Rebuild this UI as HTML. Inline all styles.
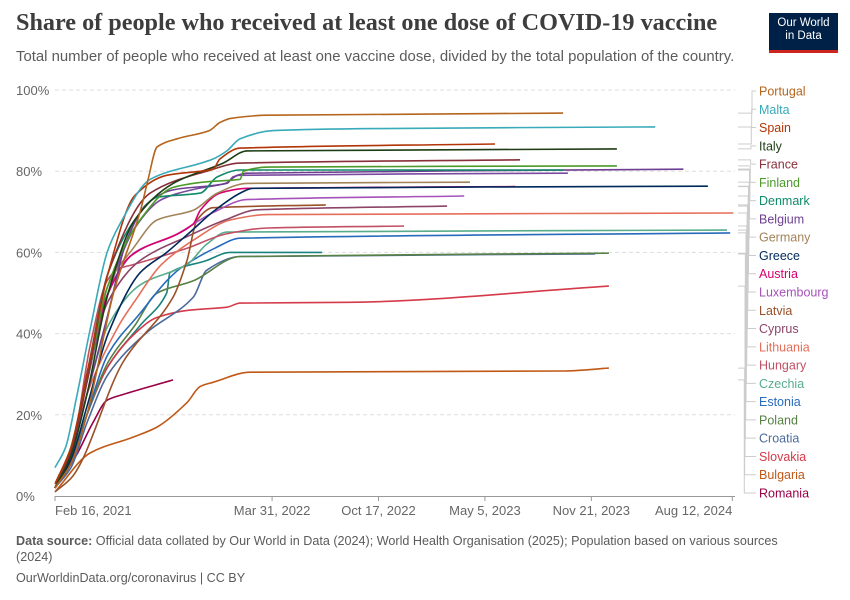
<!DOCTYPE html>
<html><head><meta charset="utf-8">
<style>
body{margin:0;background:#fff;font-family:"Liberation Sans",sans-serif;}
#wrap{position:relative;width:850px;height:600px;overflow:hidden;}
.title{position:absolute;left:16px;top:9px;font-family:"Liberation Serif",serif;font-size:24.2px;font-weight:bold;color:#3d3d3d;}
.sub{position:absolute;left:16px;top:49px;font-size:14.9px;color:#5b5b5b;}
.logo{position:absolute;left:769px;top:13px;width:69px;height:40px;background:#002147;color:#fff;font-size:11.5px;line-height:13px;text-align:center;box-sizing:border-box;padding-top:4px;border-bottom:3px solid #ce261e;}
.foot{position:absolute;left:16px;font-size:12.6px;color:#5b5b5b;}
</style></head><body>
<div id="wrap">
<div class="title">Share of people who received at least one dose of COVID-19 vaccine</div>
<div class="sub">Total number of people who received at least one vaccine dose, divided by the total population of the country.</div>
<div class="logo">Our World<br>in Data</div>
<svg id="chart" width="850" height="600" style="position:absolute;left:0;top:0"></svg>
<div class="foot" style="top:533px;width:790px;line-height:16px"><b>Data source:</b> Official data collated by Our World in Data (2024); World Health Organisation (2025); Population based on various sources<br>(2024)</div>
<div class="foot" style="top:571px">OurWorldinData.org/coronavirus | CC BY</div>
</div>
<script>
const yTicks=[0,20,40,60,80,100];
const xTickDays=[0,408,608,808,1008,1273];
const xTickLabels=["Feb 16, 2021","Mar 31, 2022","Oct 17, 2022","May 5, 2023","Nov 21, 2023","Aug 12, 2024"];
const countries=["Portugal","Malta","Spain","Italy","France","Finland","Denmark","Belgium","Germany","Greece","Austria","Luxembourg","Latvia","Cyprus","Lithuania","Hungary","Czechia","Estonia","Poland","Croatia","Slovakia","Bulgaria","Romania","Sweden","Netherlands"];
const colors=["#b5651d","#38aaba","#b13507","#1d3d14","#883039","#4c9a2a","#0f8a68","#6d3e91","#a2835a","#00295b","#d6006e","#a652ba","#9a5129","#8c4569","#e56e5a","#c15065","#58ac8c","#286bbb","#578145","#4c6a9c","#d43a4a","#c05917","#970046","#7a4aa0","#18837e"];
const portugal=[[0,2],[30,8],[60,20],[110,50],[160,70],[175,78],[192,86],[230,88],[290,90],[310,92],[330,93],[400,93.8],[955,94.3]];
const malta=[[0,7],[20,12],[40,24],[66,41],[98,60],[122,67],[179,78],[297,83],[323,85],[348,88],[410,90],[600,90.5],[1128,90.9]];
const spain=[[0,3],[30,12],[60,30],[100,55],[150,74],[210,79],[297,80.5],[310,83],[348,85.7],[827,86.7]];
const italy=[[0,2],[30,10],[60,25],[100,50],[150,68],[222,77],[316,82],[361,85],[1056,85.5]];
const france=[[0,2],[30,11],[60,28],[100,55],[179,74.6],[285,80],[348,82],[874,82.8]];
const finland=[[0,2],[30,11],[60,28],[100,52],[160,68],[222,76],[285,77.4],[348,78],[354,80],[400,81],[1056,81.3]];
const denmark=[[0,2],[30,12],[60,30],[100,55],[150,68],[192,73.6],[273,74.6],[305,78.6],[348,80.3],[955,80.3]];
const belgium=[[0,2],[30,10],[60,25],[100,45],[135,63],[173,72],[222,75.4],[323,77],[335,78.6],[361,79.5],[1181,80.5]];
const germany=[[0,2],[30,11],[60,30],[100,52],[147,61],[192,68],[260,70.4],[305,74.6],[361,77],[780,77.3]];
const greece=[[0,2],[30,9],[60,22],[100,40],[160,55],[210,60],[254,65],[297,70],[348,74.6],[372,75.8],[1227,76.3]];
const austria=[[0,2],[30,11],[60,30],[100,50],[141,59],[260,67],[273,70.4],[310,74.6],[361,75.8],[865,76.2]];
const luxembourg=[[0,2],[30,11],[60,30],[100,50],[150,60],[222,64],[300,70],[360,73],[769,73.9]];
const latvia=[[0,1],[34,5],[128,33],[222,49],[248,58],[267,68],[297,71],[509,71.7]];
const cyprus=[[0,2],[30,11],[60,30],[100,48],[160,58],[250,64],[320,68],[380,70.5],[737,71.4]];
const lithuania=[[0,2],[30,10],[60,25],[120,42],[150,48],[200,57],[260,63],[330,68],[400,69.3],[1275,69.7]];
const hungary=[[0,2],[30,10],[66,37],[98,53],[120,56],[147,57],[248,61],[320,64.5],[400,66],[656,66.5]];
const czechia=[[0,2],[30,10],[60,25],[100,42],[160,52],[248,57],[285,62],[323,65],[1263,65.5]];
const estonia=[[0,2],[30,8],[60,20],[100,35],[160,45],[210,53],[235,56],[300,61],[348,63.5],[1269,64.8]];
const poland=[[0,2],[30,8],[60,20],[100,33],[150,42],[192,50],[260,53],[348,59],[1041,59.8]];
const croatia=[[0,2],[30,7],[60,18],[100,30],[170,40],[260,49],[285,55.6],[348,59],[1015,59.6]];
const slovakia=[[0,2],[30,8],[60,20],[100,32],[150,40],[192,44],[254,45.8],[323,46.5],[348,47.5],[555,47.7],[1041,51.7]];
const bulgaria=[[0,1],[66,10.6],[147,14.5],[192,17],[248,23],[273,27],[297,28],[367,30.5],[959,30.8],[1041,31.5]];
const romania=[[0,2],[40,10],[71,18],[98,23.6],[128,25],[222,28.6]];
const sweden=[[0,2],[30,11],[60,28],[100,50],[150,66],[200,73],[260,75.5],[320,77],[345,79],[964,79.5]];
const netherlands=[[0,2],[30,8],[60,20],[100,32],[160,42],[210,50],[216,55],[285,58],[329,60],[502,60]];
const seriesData=[portugal,malta,spain,italy,france,finland,denmark,belgium,germany,greece,austria,luxembourg,latvia,cyprus,lithuania,hungary,czechia,estonia,poland,croatia,slovakia,bulgaria,romania,sweden,netherlands];
const legendCount=23;

const NS="http://www.w3.org/2000/svg";
const svg=document.getElementById('chart');
const X0=55,X1=735,Y0=496,Y1=90,DMAX=1278;
function xs(d){return X0+d*(X1-X0)/DMAX;}
function ys(v){return Y0-v*(Y0-Y1)/100;}
function mk(tag,attrs){const e=document.createElementNS(NS,tag);for(const k in attrs)e.setAttribute(k,attrs[k]);svg.appendChild(e);return e;}
function smoothPath(p){
  const n=p.length;if(n<2)return '';
  const dx=[],m=[],t=[];
  for(let i=0;i<n-1;i++){dx.push(p[i+1][0]-p[i][0]);m.push((p[i+1][1]-p[i][1])/dx[i]);}
  t[0]=m[0];t[n-1]=m[n-2];
  for(let i=1;i<n-1;i++){t[i]=(m[i-1]*m[i]<=0)?0:2/(1/m[i-1]+1/m[i]);}
  let d='M'+p[0][0].toFixed(1)+','+p[0][1].toFixed(1);
  for(let i=0;i<n-1;i++){const h=dx[i]/3;
    d+=' C'+(p[i][0]+h).toFixed(1)+','+(p[i][1]+t[i]*h).toFixed(1)+' '+(p[i+1][0]-h).toFixed(1)+','+(p[i+1][1]-t[i+1]*h).toFixed(1)+' '+p[i+1][0].toFixed(1)+','+p[i+1][1].toFixed(1);}
  return d;
}

yTicks.forEach(t=>{
  if(t>0){const g=mk('line',{x1:X0,x2:X1,y1:ys(t),y2:ys(t),stroke:'#ddd','stroke-dasharray':'4,3'});
  
  }
  const tx=mk('text',{x:16,y:ys(t)+5,'font-size':13,fill:'#666','font-family':'Liberation Sans, sans-serif'});
  tx.textContent=t+'%';
  
  
});
const ax=mk('line',{x1:X0,x2:X1,y1:Y0+0.5,y2:Y0+0.5,stroke:'#999'});


xTickDays.forEach((d,i)=>{
  const tk=mk('line',{x1:xs(d),x2:xs(d),y1:Y0,y2:Y0+5,stroke:'#999'});
  
  
  const anchor=i===0?'start':(i===xTickDays.length-1?'end':'middle');
  const tx=mk('text',{x:xs(d),y:515,'font-size':13,fill:'#666','text-anchor':anchor,'font-family':'Liberation Sans, sans-serif'});
  tx.textContent=xTickLabels[i];
  
  
});
const step=(493-91)/(legendCount-1);
for(let i=0;i<legendCount;i++){
  const s=seriesData[i];const last=s[s.length-1];
  const ly=91+i*step, sy=ys(last[1]);
  const vx=752-i*0.35;
  const c=mk('polyline',{points:`738,${sy} ${vx},${sy} ${vx},${ly} 756,${ly}`,fill:'none',stroke:'#ccc','stroke-width':1});
  
  
}
for(let i=seriesData.length-1;i>=0;i--){
  const pts=seriesData[i].map(p=>[xs(p[0]),ys(p[1])]);
  const pl=mk('path',{d:smoothPath(pts),fill:'none',stroke:colors[i],'stroke-width':1.6,'stroke-linejoin':'round'});
  
  
}
for(let i=0;i<legendCount;i++){
  const tx=mk('text',{x:759,y:91+i*step+4.5,'font-size':12.5,fill:colors[i],'font-family':'Liberation Sans, sans-serif'});
  tx.textContent=countries[i];
  
  
}
</script>
</body></html>
